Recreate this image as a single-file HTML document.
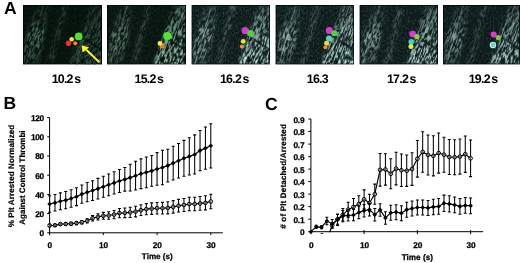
<!DOCTYPE html>
<html><head><meta charset="utf-8"><title>Figure</title>
<style>html,body{margin:0;padding:0;background:#fff;}svg{display:block;will-change:transform;text-rendering:geometricPrecision}</style></head>
<body><svg width="520" height="263" viewBox="0 0 520 263">
<rect width="520" height="263" fill="#fff"/>
<defs>
<filter id="bl" color-interpolation-filters="sRGB" x="-20%" y="-20%" width="140%" height="140%"><feGaussianBlur in="SourceGraphic" stdDeviation="1.5" result="b"/><feTurbulence type="fractalNoise" baseFrequency="0.75 0.16" numOctaves="2" seed="3" result="t"/><feColorMatrix in="t" type="matrix" values="0 0 0 0 1  0 0 0 0 1  0 0 0 0 1  4.5 4.5 0 0 -4.2" result="m"/><feComposite in="b" in2="m" operator="in"/></filter>
<filter id="bb" color-interpolation-filters="sRGB" x="-30%" y="-30%" width="160%" height="160%"><feGaussianBlur stdDeviation="0.7"/></filter>
<filter id="bs" color-interpolation-filters="sRGB" x="-30%" y="-30%" width="160%" height="160%"><feGaussianBlur in="SourceGraphic" stdDeviation="0.5" result="b"/><feTurbulence type="fractalNoise" baseFrequency="0.5 0.35" numOctaves="1" seed="21" result="t"/><feColorMatrix in="t" type="matrix" values="0 0 0 0 1  0 0 0 0 1  0 0 0 0 1  2.4 2.4 0 0 -1.6" result="m"/><feComposite in="b" in2="m" operator="in"/></filter>
<filter id="nz" color-interpolation-filters="sRGB" x="0" y="0" width="100%" height="100%"><feTurbulence type="fractalNoise" baseFrequency="0.6 0.4" numOctaves="2" seed="11" result="t"/><feColorMatrix in="t" type="matrix" values="0 0 0 0 0.24  0 0 0 0 0.38  0 0 0 0 0.36  1.0 1.0 0 0 -0.88"/></filter>
<clipPath id="c0"><rect x="23" y="5" width="79" height="59.5"/></clipPath>
<clipPath id="c1"><rect x="107" y="5" width="79" height="59.5"/></clipPath>
<clipPath id="c2"><rect x="191.5" y="5" width="78.5" height="59.5"/></clipPath>
<clipPath id="c3"><rect x="275.5" y="5" width="78.5" height="59.5"/></clipPath>
<clipPath id="c4"><rect x="359.5" y="5" width="78.5" height="59.5"/></clipPath>
<clipPath id="c5"><rect x="443" y="5" width="77" height="59.5"/></clipPath>
</defs>
<g clip-path="url(#c0)">
<rect x="23" y="5" width="79" height="59.5" fill="rgb(6,17,11)"/>
<g transform="rotate(20 63 35)"><g filter="url(#bl)"><g transform="rotate(-20 63 35)">
<linearGradient id="ga0" x1="0" y1="0" x2="0" y2="1"><stop offset="0" stop-color="rgb(84,120,100)" stop-opacity="0.08"/><stop offset="0.3" stop-color="rgb(84,120,100)" stop-opacity="0.45"/><stop offset="0.52" stop-color="rgb(84,120,100)" stop-opacity="1"/><stop offset="0.75" stop-color="rgb(84,120,100)" stop-opacity="0.7"/><stop offset="1" stop-color="rgb(84,120,100)" stop-opacity="0.25"/></linearGradient>
<linearGradient id="gb0" x1="0" y1="0" x2="0" y2="1"><stop offset="0" stop-color="rgb(62,90,75)" stop-opacity="0.28"/><stop offset="0.5" stop-color="rgb(62,90,75)" stop-opacity="0.7"/><stop offset="1" stop-color="rgb(62,90,75)" stop-opacity="1"/></linearGradient>
<polygon points="37.0,1.0 51.0,1.0 38.0,68.0 18.0,68.0" fill="url(#ga0)"/>
<polygon points="63.0,1.0 69.0,1.0 52.0,68.0 46.0,68.0" fill="rgb(67,96,80)" opacity="0.55"/>
<polygon points="91.0,1.0 107.0,1.0 107.0,68.0 68.0,68.0" fill="url(#gb0)"/>
</g></g></g>
<line x1="83" y1="38" x2="103" y2="51" stroke="rgb(6,17,11)" stroke-width="2.4" opacity="0.8" filter="url(#bb)"/>
<g filter="url(#bs)" stroke="rgb(62,90,75)" fill="none" stroke-linecap="round">
<path d="M44,3 L26,65" stroke-width="1.4" opacity="0.45"/>
<path d="M103,7 L70,65" stroke-width="1.6" opacity="0.6"/>
<path d="M97,3 L85,27" stroke-width="1.1" opacity="0.3"/>
</g>
<rect x="23" y="5" width="79" height="59.5" filter="url(#nz)" opacity="0.3"/>
<rect x="23.5" y="5.5" width="78" height="58.5" fill="none" stroke="#020806" stroke-width="1" opacity="0.75"/>
<g filter="url(#bb)">
<circle cx="78.7" cy="36.4" r="3.9" fill="#52dc34"/>
<circle cx="71.7" cy="39.2" r="2.3" fill="#f2e63a"/>
<circle cx="68.5" cy="43.3" r="2.8" fill="#e6303a"/>
<circle cx="75.2" cy="43.3" r="2.0" fill="#f08a28"/>
</g>
</g>
<g clip-path="url(#c1)">
<rect x="107" y="5" width="79" height="59.5" fill="rgb(9,20,15)"/>
<g transform="rotate(20 147 35)"><g filter="url(#bl)"><g transform="rotate(-20 147 35)">
<linearGradient id="ga1" x1="0" y1="0" x2="0" y2="1"><stop offset="0" stop-color="rgb(105,135,121)" stop-opacity="0.08"/><stop offset="0.3" stop-color="rgb(105,135,121)" stop-opacity="0.45"/><stop offset="0.52" stop-color="rgb(105,135,121)" stop-opacity="1"/><stop offset="0.75" stop-color="rgb(105,135,121)" stop-opacity="0.7"/><stop offset="1" stop-color="rgb(105,135,121)" stop-opacity="0.25"/></linearGradient>
<linearGradient id="gb1" x1="0" y1="0" x2="0" y2="1"><stop offset="0" stop-color="rgb(167,215,193)" stop-opacity="0.28"/><stop offset="0.5" stop-color="rgb(167,215,193)" stop-opacity="0.7"/><stop offset="1" stop-color="rgb(167,215,193)" stop-opacity="1"/></linearGradient>
<polygon points="121.0,1.0 135.0,1.0 122.0,68.0 102.0,68.0" fill="url(#ga1)"/>
<polygon points="147.0,1.0 153.0,1.0 136.0,68.0 130.0,68.0" fill="rgb(84,108,97)" opacity="0.55"/>
<polygon points="175.0,1.0 191.0,1.0 191.0,68.0 152.0,68.0" fill="url(#gb1)"/>
</g></g></g>
<line x1="167" y1="38" x2="187" y2="51" stroke="rgb(9,20,15)" stroke-width="2.4" opacity="0.8" filter="url(#bb)"/>
<g filter="url(#bs)" stroke="rgb(124,160,144)" fill="none" stroke-linecap="round">
<path d="M128,3 L110,65" stroke-width="1.4" opacity="0.45"/>
<path d="M187,7 L154,65" stroke-width="1.6" opacity="0.6"/>
<path d="M181,3 L169,27" stroke-width="1.1" opacity="0.3"/>
</g>
<rect x="107" y="5" width="79" height="59.5" filter="url(#nz)" opacity="0.4"/>
<rect x="107.5" y="5.5" width="78" height="58.5" fill="none" stroke="#020806" stroke-width="1" opacity="0.75"/>
<g filter="url(#bb)">
<circle cx="167.3" cy="36.1" r="4.1" fill="#54e236"/>
<circle cx="162.3" cy="46.0" r="2.5" fill="#f0782a"/>
<circle cx="160.0" cy="43.4" r="2.4" fill="#f0ee3c"/>
</g>
</g>
<g clip-path="url(#c2)">
<rect x="191.5" y="5" width="78.5" height="59.5" fill="rgb(14,26,26)"/>
<g transform="rotate(20 231.5 35)"><g filter="url(#bl)"><g transform="rotate(-20 231.5 35)">
<linearGradient id="ga2" x1="0" y1="0" x2="0" y2="1"><stop offset="0" stop-color="rgb(155,185,179)" stop-opacity="0.08"/><stop offset="0.3" stop-color="rgb(155,185,179)" stop-opacity="0.45"/><stop offset="0.52" stop-color="rgb(155,185,179)" stop-opacity="1"/><stop offset="0.75" stop-color="rgb(155,185,179)" stop-opacity="0.7"/><stop offset="1" stop-color="rgb(155,185,179)" stop-opacity="0.25"/></linearGradient>
<linearGradient id="gb2" x1="0" y1="0" x2="0" y2="1"><stop offset="0" stop-color="rgb(205,245,237)" stop-opacity="0.28"/><stop offset="0.5" stop-color="rgb(205,245,237)" stop-opacity="0.7"/><stop offset="1" stop-color="rgb(205,245,237)" stop-opacity="1"/></linearGradient>
<polygon points="205.5,1.0 219.5,1.0 206.5,68.0 186.5,68.0" fill="url(#ga2)"/>
<polygon points="231.5,1.0 237.5,1.0 220.5,68.0 214.5,68.0" fill="rgb(124,148,143)" opacity="0.55"/>
<polygon points="259.5,1.0 275.5,1.0 275.5,68.0 236.5,68.0" fill="url(#gb2)"/>
</g></g></g>
<line x1="251.5" y1="38" x2="271.5" y2="51" stroke="rgb(14,26,26)" stroke-width="2.4" opacity="0.8" filter="url(#bb)"/>
<g filter="url(#bs)" stroke="rgb(176,210,203)" fill="none" stroke-linecap="round">
<path d="M212.5,3 L194.5,65" stroke-width="1.4" opacity="0.45"/>
<path d="M271.5,7 L238.5,65" stroke-width="1.6" opacity="0.6"/>
<path d="M265.5,3 L253.5,27" stroke-width="1.1" opacity="0.3"/>
</g>
<rect x="191.5" y="5" width="78.5" height="59.5" filter="url(#nz)" opacity="0.85"/>
<rect x="192.0" y="5.5" width="77.5" height="58.5" fill="none" stroke="#020806" stroke-width="1" opacity="0.75"/>
<g filter="url(#bb)">
<circle cx="245.2" cy="30.6" r="3.7" fill="#d63bd0"/>
<circle cx="250.5" cy="33.3" r="3.3" fill="#55d03c"/>
<circle cx="243.2" cy="41.3" r="2.4" fill="#e2e83a"/>
<circle cx="241.9" cy="46.6" r="2.1" fill="#ee8a32"/>
</g>
</g>
<g clip-path="url(#c3)">
<rect x="275.5" y="5" width="78.5" height="59.5" fill="rgb(14,26,26)"/>
<g transform="rotate(20 315.5 35)"><g filter="url(#bl)"><g transform="rotate(-20 315.5 35)">
<linearGradient id="ga3" x1="0" y1="0" x2="0" y2="1"><stop offset="0" stop-color="rgb(155,185,179)" stop-opacity="0.08"/><stop offset="0.3" stop-color="rgb(155,185,179)" stop-opacity="0.45"/><stop offset="0.52" stop-color="rgb(155,185,179)" stop-opacity="1"/><stop offset="0.75" stop-color="rgb(155,185,179)" stop-opacity="0.7"/><stop offset="1" stop-color="rgb(155,185,179)" stop-opacity="0.25"/></linearGradient>
<linearGradient id="gb3" x1="0" y1="0" x2="0" y2="1"><stop offset="0" stop-color="rgb(205,245,237)" stop-opacity="0.28"/><stop offset="0.5" stop-color="rgb(205,245,237)" stop-opacity="0.7"/><stop offset="1" stop-color="rgb(205,245,237)" stop-opacity="1"/></linearGradient>
<polygon points="289.5,1.0 303.5,1.0 290.5,68.0 270.5,68.0" fill="url(#ga3)"/>
<polygon points="315.5,1.0 321.5,1.0 304.5,68.0 298.5,68.0" fill="rgb(124,148,143)" opacity="0.55"/>
<polygon points="343.5,1.0 359.5,1.0 359.5,68.0 320.5,68.0" fill="url(#gb3)"/>
</g></g></g>
<line x1="335.5" y1="38" x2="355.5" y2="51" stroke="rgb(14,26,26)" stroke-width="2.4" opacity="0.8" filter="url(#bb)"/>
<g filter="url(#bs)" stroke="rgb(176,210,203)" fill="none" stroke-linecap="round">
<path d="M296.5,3 L278.5,65" stroke-width="1.4" opacity="0.45"/>
<path d="M355.5,7 L322.5,65" stroke-width="1.6" opacity="0.6"/>
<path d="M349.5,3 L337.5,27" stroke-width="1.1" opacity="0.3"/>
</g>
<rect x="275.5" y="5" width="78.5" height="59.5" filter="url(#nz)" opacity="0.85"/>
<rect x="276.0" y="5.5" width="77.5" height="58.5" fill="none" stroke="#020806" stroke-width="1" opacity="0.75"/>
<g filter="url(#bb)">
<circle cx="329.3" cy="30.6" r="3.5" fill="#d63bd0"/>
<circle cx="334.3" cy="33.3" r="3.0" fill="#55d03c"/>
<circle cx="329.0" cy="38.6" r="3.0" fill="#5fcfc0"/>
<circle cx="326.6" cy="43.3" r="2.5" fill="#ecd83a"/>
<circle cx="325.3" cy="47.3" r="1.9" fill="#ee9a32"/>
</g>
</g>
<g clip-path="url(#c4)">
<rect x="359.5" y="5" width="78.5" height="59.5" fill="rgb(14,25,25)"/>
<g transform="rotate(20 399.5 35)"><g filter="url(#bl)"><g transform="rotate(-20 399.5 35)">
<linearGradient id="ga4" x1="0" y1="0" x2="0" y2="1"><stop offset="0" stop-color="rgb(147,175,169)" stop-opacity="0.08"/><stop offset="0.3" stop-color="rgb(147,175,169)" stop-opacity="0.45"/><stop offset="0.52" stop-color="rgb(147,175,169)" stop-opacity="1"/><stop offset="0.75" stop-color="rgb(147,175,169)" stop-opacity="0.7"/><stop offset="1" stop-color="rgb(147,175,169)" stop-opacity="0.25"/></linearGradient>
<linearGradient id="gb4" x1="0" y1="0" x2="0" y2="1"><stop offset="0" stop-color="rgb(194,232,225)" stop-opacity="0.28"/><stop offset="0.5" stop-color="rgb(194,232,225)" stop-opacity="0.7"/><stop offset="1" stop-color="rgb(194,232,225)" stop-opacity="1"/></linearGradient>
<polygon points="373.5,1.0 387.5,1.0 374.5,68.0 354.5,68.0" fill="url(#ga4)"/>
<polygon points="399.5,1.0 405.5,1.0 388.5,68.0 382.5,68.0" fill="rgb(117,140,135)" opacity="0.55"/>
<polygon points="427.5,1.0 443.5,1.0 443.5,68.0 404.5,68.0" fill="url(#gb4)"/>
</g></g></g>
<line x1="419.5" y1="38" x2="439.5" y2="51" stroke="rgb(14,25,25)" stroke-width="2.4" opacity="0.8" filter="url(#bb)"/>
<g filter="url(#bs)" stroke="rgb(168,200,194)" fill="none" stroke-linecap="round">
<path d="M380.5,3 L362.5,65" stroke-width="1.4" opacity="0.45"/>
<path d="M439.5,7 L406.5,65" stroke-width="1.6" opacity="0.6"/>
<path d="M433.5,3 L421.5,27" stroke-width="1.1" opacity="0.3"/>
</g>
<rect x="359.5" y="5" width="78.5" height="59.5" filter="url(#nz)" opacity="0.8"/>
<rect x="360.0" y="5.5" width="77.5" height="58.5" fill="none" stroke="#020806" stroke-width="1" opacity="0.75"/>
<g filter="url(#bb)">
<circle cx="412.6" cy="34.0" r="3.3" fill="#dc3bd0"/>
<circle cx="416.9" cy="36.6" r="2.6" fill="#8fd048"/>
<circle cx="411.3" cy="41.9" r="2.8" fill="#48d0c0"/>
<circle cx="410.9" cy="46.6" r="2.5" fill="#e8e83c"/>
</g>
</g>
<g clip-path="url(#c5)">
<rect x="443" y="5" width="77" height="59.5" fill="rgb(13,24,24)"/>
<g transform="rotate(20 483 35)"><g filter="url(#bl)"><g transform="rotate(-20 483 35)">
<linearGradient id="ga5" x1="0" y1="0" x2="0" y2="1"><stop offset="0" stop-color="rgb(136,165,161)" stop-opacity="0.08"/><stop offset="0.3" stop-color="rgb(136,165,161)" stop-opacity="0.45"/><stop offset="0.52" stop-color="rgb(136,165,161)" stop-opacity="1"/><stop offset="0.75" stop-color="rgb(136,165,161)" stop-opacity="0.7"/><stop offset="1" stop-color="rgb(136,165,161)" stop-opacity="0.25"/></linearGradient>
<linearGradient id="gb5" x1="0" y1="0" x2="0" y2="1"><stop offset="0" stop-color="rgb(182,220,215)" stop-opacity="0.28"/><stop offset="0.5" stop-color="rgb(182,220,215)" stop-opacity="0.7"/><stop offset="1" stop-color="rgb(182,220,215)" stop-opacity="1"/></linearGradient>
<polygon points="457.0,1.0 471.0,1.0 458.0,68.0 438.0,68.0" fill="url(#ga5)"/>
<polygon points="483.0,1.0 489.0,1.0 472.0,68.0 466.0,68.0" fill="rgb(109,132,129)" opacity="0.55"/>
<polygon points="511.0,1.0 527.0,1.0 527.0,68.0 488.0,68.0" fill="url(#gb5)"/>
</g></g></g>
<line x1="503" y1="38" x2="523" y2="51" stroke="rgb(13,24,24)" stroke-width="2.4" opacity="0.8" filter="url(#bb)"/>
<g filter="url(#bs)" stroke="rgb(157,190,186)" fill="none" stroke-linecap="round">
<path d="M464,3 L446,65" stroke-width="1.4" opacity="0.45"/>
<path d="M523,7 L490,65" stroke-width="1.6" opacity="0.6"/>
<path d="M517,3 L505,27" stroke-width="1.1" opacity="0.3"/>
</g>
<rect x="443" y="5" width="77" height="59.5" filter="url(#nz)" opacity="0.75"/>
<rect x="443.5" y="5.5" width="76" height="58.5" fill="none" stroke="#020806" stroke-width="1" opacity="0.75"/>
<g filter="url(#bb)">
<circle cx="493.7" cy="34.6" r="3.0" fill="#dc3bd0"/>
<circle cx="498.3" cy="37.6" r="2.6" fill="#78c840"/>
<circle cx="492.9" cy="45.0" r="3.2" fill="#d8f0e4"/>
<circle cx="493.0" cy="44.9" r="2.3" fill="#58d8c4"/>
</g>
</g>
<g stroke="#f6f432" fill="#f6f432"><line x1="99.4" y1="62.3" x2="86.2" y2="49.8" stroke-width="2"/><polygon points="81.6,45.2 89.2,47.4 82.6,52.6" stroke="none"/></g>
<g font-family='"Liberation Sans", sans-serif' font-weight="bold" fill="#000">
<text x="4.0" y="13.8" font-size="17.5" text-anchor="start">A</text>
<text x="3.6" y="109.4" font-size="17.5" text-anchor="start">B</text>
<text x="265.0" y="109.6" font-size="17.5" text-anchor="start">C</text>
<text x="66.0" y="82.5" font-size="12.4" text-anchor="middle" letter-spacing="-0.75" word-spacing="-1.2">10.2 s</text>
<text x="148.9" y="82.5" font-size="12.4" text-anchor="middle" letter-spacing="-0.75" word-spacing="-1.2">15.2 s</text>
<text x="234.3" y="82.5" font-size="12.4" text-anchor="middle" letter-spacing="-0.75" word-spacing="-1.2">16.2 s</text>
<text x="317.3" y="82.5" font-size="12.4" text-anchor="middle" letter-spacing="-0.75" word-spacing="-1.2">16.3</text>
<text x="401.3" y="82.5" font-size="12.4" text-anchor="middle" letter-spacing="-0.75" word-spacing="-1.2">17.2 s</text>
<text x="483.1" y="82.5" font-size="12.4" text-anchor="middle" letter-spacing="-0.75" word-spacing="-1.2">19.2 s</text>
<g stroke="#000" stroke-width="1" fill="none">
<path d="M49.6,117.60000000000002 V235.4 M47.2,232.8 H222.8"/>
<path d="M47.2,213.6 H49.6"/>
<path d="M47.2,194.4 H49.6"/>
<path d="M47.2,175.2 H49.6"/>
<path d="M47.2,156.0 H49.6"/>
<path d="M47.2,136.8 H49.6"/>
<path d="M47.2,117.6 H49.6"/>
<path d="M103.3,232.8 V235.10000000000002"/>
<path d="M157.1,232.8 V235.10000000000002"/>
<path d="M210.8,232.8 V235.10000000000002"/>
</g>
<text x="43.9" y="236.20000000000002" font-size="8.3" text-anchor="end" letter-spacing="-0.3" stroke="#000" stroke-width="0.25">0</text>
<text x="43.9" y="217.00000000000003" font-size="8.3" text-anchor="end" letter-spacing="-0.3" stroke="#000" stroke-width="0.25">20</text>
<text x="43.9" y="197.8" font-size="8.3" text-anchor="end" letter-spacing="-0.3" stroke="#000" stroke-width="0.25">40</text>
<text x="43.9" y="178.60000000000002" font-size="8.3" text-anchor="end" letter-spacing="-0.3" stroke="#000" stroke-width="0.25">60</text>
<text x="43.9" y="159.4" font-size="8.3" text-anchor="end" letter-spacing="-0.3" stroke="#000" stroke-width="0.25">80</text>
<text x="43.9" y="140.20000000000002" font-size="8.3" text-anchor="end" letter-spacing="-0.3" stroke="#000" stroke-width="0.25">100</text>
<text x="43.9" y="121.00000000000003" font-size="8.3" text-anchor="end" letter-spacing="-0.3" stroke="#000" stroke-width="0.25">120</text>
<text x="49.7" y="247.5" font-size="8.3" text-anchor="middle" letter-spacing="-0.3" stroke="#000" stroke-width="0.25">0</text>
<text x="103.43" y="247.5" font-size="8.3" text-anchor="middle" letter-spacing="-0.3" stroke="#000" stroke-width="0.25">10</text>
<text x="157.16" y="247.5" font-size="8.3" text-anchor="middle" letter-spacing="-0.3" stroke="#000" stroke-width="0.25">20</text>
<text x="210.89" y="247.5" font-size="8.3" text-anchor="middle" letter-spacing="-0.3" stroke="#000" stroke-width="0.25">30</text>
<text x="157.3" y="259.4" font-size="8.1" text-anchor="middle" stroke="#000" stroke-width="0.25">Time (s)</text>
<text transform="translate(14.3,176.0) rotate(-90)" font-size="8" letter-spacing="0.12" stroke="#000" stroke-width="0.2" text-anchor="middle">% Plt Arrested Normalized</text>
<text transform="translate(24.6,177.6) rotate(-90)" font-size="8" stroke="#000" stroke-width="0.2" text-anchor="middle">Against Control Thrombi</text>
<path d="M49.60,224.35V226.66M48.10,224.35h3.0M48.10,226.66h3.0M54.97,224.16V226.46M53.47,224.16h3.0M53.47,226.46h3.0M60.35,222.91V225.41M58.85,222.91h3.0M58.85,225.41h3.0M65.72,222.62V225.31M64.22,222.62h3.0M64.22,225.31h3.0M71.09,222.24V225.12M69.59,222.24h3.0M69.59,225.12h3.0M76.47,221.57V224.64M74.97,221.57h3.0M74.97,224.64h3.0M81.84,220.51V223.97M80.34,220.51h3.0M80.34,223.97h3.0M87.21,218.69V222.91M85.71,218.69h3.0M85.71,222.91h3.0M92.58,215.52V220.90M91.08,215.52h3.0M91.08,220.90h3.0M97.96,213.79V219.94M96.46,213.79h3.0M96.46,219.94h3.0M103.33,212.35V219.26M101.83,212.35h3.0M101.83,219.26h3.0M108.70,211.78V219.26M107.20,211.78h3.0M107.20,219.26h3.0M114.08,210.43V218.69M112.58,210.43h3.0M112.58,218.69h3.0M119.45,208.51V217.73M117.95,208.51h3.0M117.95,217.73h3.0M124.82,208.03V217.63M123.32,208.03h3.0M123.32,217.63h3.0M130.19,207.17V217.54M128.69,207.17h3.0M128.69,217.54h3.0M135.57,206.30V216.86M134.07,206.30h3.0M134.07,216.86h3.0M140.94,204.77V215.52M139.44,204.77h3.0M139.44,215.52h3.0M146.31,203.62V214.75M144.81,203.62h3.0M144.81,214.75h3.0M151.69,202.85V214.37M150.19,202.85h3.0M150.19,214.37h3.0M157.06,202.46V213.98M155.56,202.46h3.0M155.56,213.98h3.0M162.43,202.37V214.08M160.93,202.37h3.0M160.93,214.08h3.0M167.81,201.79V213.89M166.31,201.79h3.0M166.31,213.89h3.0M173.18,200.64V213.12M171.68,200.64h3.0M171.68,213.12h3.0M178.55,199.39V212.06M177.05,199.39h3.0M177.05,212.06h3.0M183.93,198.43V211.49M182.43,198.43h3.0M182.43,211.49h3.0M189.30,197.28V210.72M187.80,197.28h3.0M187.80,210.72h3.0M194.67,197.28V210.72M193.17,197.28h3.0M193.17,210.72h3.0M200.04,196.51V210.34M198.54,196.51h3.0M198.54,210.34h3.0M205.42,195.84V209.86M203.92,195.84h3.0M203.92,209.86h3.0M210.79,194.30V208.70M209.29,194.30h3.0M209.29,208.70h3.0" stroke="#000" stroke-width="1.05" fill="none"/>
<polyline points="49.60,225.50 54.97,225.31 60.35,224.16 65.72,223.97 71.09,223.68 76.47,223.10 81.84,222.24 87.21,220.80 92.58,218.21 97.96,216.86 103.33,215.81 108.70,215.52 114.08,214.56 119.45,213.12 124.82,212.83 130.19,212.35 135.57,211.58 140.94,210.14 146.31,209.18 151.69,208.61 157.06,208.22 162.43,208.22 167.81,207.84 173.18,206.88 178.55,205.73 183.93,204.96 189.30,204.00 194.67,204.00 200.04,203.42 205.42,202.85 210.79,201.50" stroke="#000" stroke-width="1.15" fill="none"/>
<circle cx="49.60" cy="225.50" r="1.85" fill="#fff" fill-opacity="0.35" stroke="#000" stroke-width="1"/>
<circle cx="54.97" cy="225.31" r="1.85" fill="#fff" fill-opacity="0.35" stroke="#000" stroke-width="1"/>
<circle cx="60.35" cy="224.16" r="1.85" fill="#fff" fill-opacity="0.35" stroke="#000" stroke-width="1"/>
<circle cx="65.72" cy="223.97" r="1.85" fill="#fff" fill-opacity="0.35" stroke="#000" stroke-width="1"/>
<circle cx="71.09" cy="223.68" r="1.85" fill="#fff" fill-opacity="0.35" stroke="#000" stroke-width="1"/>
<circle cx="76.47" cy="223.10" r="1.85" fill="#fff" fill-opacity="0.35" stroke="#000" stroke-width="1"/>
<circle cx="81.84" cy="222.24" r="1.85" fill="#fff" fill-opacity="0.35" stroke="#000" stroke-width="1"/>
<circle cx="87.21" cy="220.80" r="1.85" fill="#fff" fill-opacity="0.35" stroke="#000" stroke-width="1"/>
<circle cx="92.58" cy="218.21" r="1.85" fill="#fff" fill-opacity="0.35" stroke="#000" stroke-width="1"/>
<circle cx="97.96" cy="216.86" r="1.85" fill="#fff" fill-opacity="0.35" stroke="#000" stroke-width="1"/>
<circle cx="103.33" cy="215.81" r="1.85" fill="#fff" fill-opacity="0.35" stroke="#000" stroke-width="1"/>
<circle cx="108.70" cy="215.52" r="1.85" fill="#fff" fill-opacity="0.35" stroke="#000" stroke-width="1"/>
<circle cx="114.08" cy="214.56" r="1.85" fill="#fff" fill-opacity="0.35" stroke="#000" stroke-width="1"/>
<circle cx="119.45" cy="213.12" r="1.85" fill="#fff" fill-opacity="0.35" stroke="#000" stroke-width="1"/>
<circle cx="124.82" cy="212.83" r="1.85" fill="#fff" fill-opacity="0.35" stroke="#000" stroke-width="1"/>
<circle cx="130.19" cy="212.35" r="1.85" fill="#fff" fill-opacity="0.35" stroke="#000" stroke-width="1"/>
<circle cx="135.57" cy="211.58" r="1.85" fill="#fff" fill-opacity="0.35" stroke="#000" stroke-width="1"/>
<circle cx="140.94" cy="210.14" r="1.85" fill="#fff" fill-opacity="0.35" stroke="#000" stroke-width="1"/>
<circle cx="146.31" cy="209.18" r="1.85" fill="#fff" fill-opacity="0.35" stroke="#000" stroke-width="1"/>
<circle cx="151.69" cy="208.61" r="1.85" fill="#fff" fill-opacity="0.35" stroke="#000" stroke-width="1"/>
<circle cx="157.06" cy="208.22" r="1.85" fill="#fff" fill-opacity="0.35" stroke="#000" stroke-width="1"/>
<circle cx="162.43" cy="208.22" r="1.85" fill="#fff" fill-opacity="0.35" stroke="#000" stroke-width="1"/>
<circle cx="167.81" cy="207.84" r="1.85" fill="#fff" fill-opacity="0.35" stroke="#000" stroke-width="1"/>
<circle cx="173.18" cy="206.88" r="1.85" fill="#fff" fill-opacity="0.35" stroke="#000" stroke-width="1"/>
<circle cx="178.55" cy="205.73" r="1.85" fill="#fff" fill-opacity="0.35" stroke="#000" stroke-width="1"/>
<circle cx="183.93" cy="204.96" r="1.85" fill="#fff" fill-opacity="0.35" stroke="#000" stroke-width="1"/>
<circle cx="189.30" cy="204.00" r="1.85" fill="#fff" fill-opacity="0.35" stroke="#000" stroke-width="1"/>
<circle cx="194.67" cy="204.00" r="1.85" fill="#fff" fill-opacity="0.35" stroke="#000" stroke-width="1"/>
<circle cx="200.04" cy="203.42" r="1.85" fill="#fff" fill-opacity="0.35" stroke="#000" stroke-width="1"/>
<circle cx="205.42" cy="202.85" r="1.85" fill="#fff" fill-opacity="0.35" stroke="#000" stroke-width="1"/>
<circle cx="210.79" cy="201.50" r="1.85" fill="#fff" fill-opacity="0.35" stroke="#000" stroke-width="1"/>
<path d="M49.60,195.84V212.16M48.10,195.84h3.0M48.10,212.16h3.0M54.97,194.50V211.01M53.47,194.50h3.0M53.47,211.01h3.0M60.35,192.86V209.76M58.85,192.86h3.0M58.85,209.76h3.0M65.72,191.52V208.80M64.22,191.52h3.0M64.22,208.80h3.0M71.09,189.70V207.17M69.59,189.70h3.0M69.59,207.17h3.0M76.47,187.78V205.63M74.97,187.78h3.0M74.97,205.63h3.0M81.84,184.90V203.33M80.34,184.90h3.0M80.34,203.33h3.0M87.21,182.59V201.79M85.71,182.59h3.0M85.71,201.79h3.0M92.58,180.67V200.45M91.08,180.67h3.0M91.08,200.45h3.0M97.96,178.37V198.91M96.46,178.37h3.0M96.46,198.91h3.0M103.33,176.16V197.28M101.83,176.16h3.0M101.83,197.28h3.0M108.70,173.95V195.65M107.20,173.95h3.0M107.20,195.65h3.0M114.08,171.74V194.02M112.58,171.74h3.0M112.58,194.02h3.0M119.45,169.44V192.48M117.95,169.44h3.0M117.95,192.48h3.0M124.82,167.52V191.14M123.32,167.52h3.0M123.32,191.14h3.0M130.19,164.16V191.04M128.69,164.16h3.0M128.69,191.04h3.0M135.57,161.28V190.08M134.07,161.28h3.0M134.07,190.08h3.0M140.94,158.88V188.64M139.44,158.88h3.0M139.44,188.64h3.0M146.31,156.96V187.68M144.81,156.96h3.0M144.81,187.68h3.0M151.69,155.52V186.24M150.19,155.52h3.0M150.19,186.24h3.0M157.06,152.64V185.28M155.56,152.64h3.0M155.56,185.28h3.0M162.43,150.24V184.80M160.93,150.24h3.0M160.93,184.80h3.0M167.81,149.28V181.92M166.31,149.28h3.0M166.31,181.92h3.0M173.18,146.21V180.00M171.68,146.21h3.0M171.68,180.00h3.0M178.55,143.52V178.08M177.05,143.52h3.0M177.05,178.08h3.0M183.93,140.35V176.26M182.43,140.35h3.0M182.43,176.26h3.0M189.30,137.76V175.01M187.80,137.76h3.0M187.80,175.01h3.0M194.67,134.88V174.05M193.17,134.88h3.0M193.17,174.05h3.0M200.04,130.46V170.78M198.54,130.46h3.0M198.54,170.78h3.0M205.42,127.01V169.25M203.92,127.01h3.0M203.92,169.25h3.0M210.79,123.74V167.90M209.29,123.74h3.0M209.29,167.90h3.0" stroke="#000" stroke-width="1.05" fill="none"/>
<polyline points="49.60,204.00 54.97,202.75 60.35,201.31 65.72,200.16 71.09,198.43 76.47,196.70 81.84,194.11 87.21,192.19 92.58,190.56 97.96,188.64 103.33,186.72 108.70,184.80 114.08,182.88 119.45,180.96 124.82,179.33 130.19,177.60 135.57,175.68 140.94,173.76 146.31,172.32 151.69,170.88 157.06,168.96 162.43,167.52 167.81,165.60 173.18,163.10 178.55,160.80 183.93,158.30 189.30,156.38 194.67,154.46 200.04,150.62 205.42,148.13 210.79,145.82" stroke="#000" stroke-width="1.15" fill="none"/>
<polygon points="49.60,201.70 51.90,204.00 49.60,206.30 47.30,204.00" fill="#000"/>
<polygon points="54.97,200.45 57.27,202.75 54.97,205.05 52.67,202.75" fill="#000"/>
<polygon points="60.35,199.01 62.65,201.31 60.35,203.61 58.05,201.31" fill="#000"/>
<polygon points="65.72,197.86 68.02,200.16 65.72,202.46 63.42,200.16" fill="#000"/>
<polygon points="71.09,196.13 73.39,198.43 71.09,200.73 68.79,198.43" fill="#000"/>
<polygon points="76.47,194.40 78.77,196.70 76.47,199.00 74.17,196.70" fill="#000"/>
<polygon points="81.84,191.81 84.14,194.11 81.84,196.41 79.54,194.11" fill="#000"/>
<polygon points="87.21,189.89 89.51,192.19 87.21,194.49 84.91,192.19" fill="#000"/>
<polygon points="92.58,188.26 94.88,190.56 92.58,192.86 90.28,190.56" fill="#000"/>
<polygon points="97.96,186.34 100.26,188.64 97.96,190.94 95.66,188.64" fill="#000"/>
<polygon points="103.33,184.42 105.63,186.72 103.33,189.02 101.03,186.72" fill="#000"/>
<polygon points="108.70,182.50 111.00,184.80 108.70,187.10 106.40,184.80" fill="#000"/>
<polygon points="114.08,180.58 116.38,182.88 114.08,185.18 111.78,182.88" fill="#000"/>
<polygon points="119.45,178.66 121.75,180.96 119.45,183.26 117.15,180.96" fill="#000"/>
<polygon points="124.82,177.03 127.12,179.33 124.82,181.63 122.52,179.33" fill="#000"/>
<polygon points="130.19,175.30 132.50,177.60 130.19,179.90 127.89,177.60" fill="#000"/>
<polygon points="135.57,173.38 137.87,175.68 135.57,177.98 133.27,175.68" fill="#000"/>
<polygon points="140.94,171.46 143.24,173.76 140.94,176.06 138.64,173.76" fill="#000"/>
<polygon points="146.31,170.02 148.61,172.32 146.31,174.62 144.01,172.32" fill="#000"/>
<polygon points="151.69,168.58 153.99,170.88 151.69,173.18 149.39,170.88" fill="#000"/>
<polygon points="157.06,166.66 159.36,168.96 157.06,171.26 154.76,168.96" fill="#000"/>
<polygon points="162.43,165.22 164.73,167.52 162.43,169.82 160.13,167.52" fill="#000"/>
<polygon points="167.81,163.30 170.11,165.60 167.81,167.90 165.51,165.60" fill="#000"/>
<polygon points="173.18,160.80 175.48,163.10 173.18,165.40 170.88,163.10" fill="#000"/>
<polygon points="178.55,158.50 180.85,160.80 178.55,163.10 176.25,160.80" fill="#000"/>
<polygon points="183.93,156.00 186.23,158.30 183.93,160.60 181.62,158.30" fill="#000"/>
<polygon points="189.30,154.08 191.60,156.38 189.30,158.68 187.00,156.38" fill="#000"/>
<polygon points="194.67,152.16 196.97,154.46 194.67,156.76 192.37,154.46" fill="#000"/>
<polygon points="200.04,148.32 202.34,150.62 200.04,152.92 197.74,150.62" fill="#000"/>
<polygon points="205.42,145.83 207.72,148.13 205.42,150.43 203.12,148.13" fill="#000"/>
<polygon points="210.79,143.52 213.09,145.82 210.79,148.12 208.49,145.82" fill="#000"/>
<g stroke="#000" stroke-width="1" fill="none">
<path d="M310.9,119.0 V234.2 M308.29999999999995,231.7 H483.2"/>
<path d="M308.29999999999995,219.2 H310.9"/>
<path d="M308.29999999999995,206.7 H310.9"/>
<path d="M308.29999999999995,194.1 H310.9"/>
<path d="M308.29999999999995,181.6 H310.9"/>
<path d="M308.29999999999995,169.1 H310.9"/>
<path d="M308.29999999999995,156.6 H310.9"/>
<path d="M308.29999999999995,144.1 H310.9"/>
<path d="M308.29999999999995,131.5 H310.9"/>
<path d="M308.29999999999995,119.0 H310.9"/>
<path d="M364.1,230.1 V234.1"/>
<path d="M417.4,230.1 V234.1"/>
<path d="M470.6,230.1 V234.1"/>
</g>
<text x="304.3" y="235.2" font-size="8.3" text-anchor="end" letter-spacing="-0.25" stroke="#000" stroke-width="0.25">0</text>
<text x="304.3" y="222.67999999999998" font-size="8.3" text-anchor="end" letter-spacing="-0.25" stroke="#000" stroke-width="0.25">0.1</text>
<text x="304.3" y="210.16" font-size="8.3" text-anchor="end" letter-spacing="-0.25" stroke="#000" stroke-width="0.25">0.2</text>
<text x="304.3" y="197.64" font-size="8.3" text-anchor="end" letter-spacing="-0.25" stroke="#000" stroke-width="0.25">0.3</text>
<text x="304.3" y="185.11999999999998" font-size="8.3" text-anchor="end" letter-spacing="-0.25" stroke="#000" stroke-width="0.25">0.4</text>
<text x="304.3" y="172.6" font-size="8.3" text-anchor="end" letter-spacing="-0.25" stroke="#000" stroke-width="0.25">0.5</text>
<text x="304.3" y="160.07999999999998" font-size="8.3" text-anchor="end" letter-spacing="-0.25" stroke="#000" stroke-width="0.25">0.6</text>
<text x="304.3" y="147.56" font-size="8.3" text-anchor="end" letter-spacing="-0.25" stroke="#000" stroke-width="0.25">0.7</text>
<text x="304.3" y="135.03999999999996" font-size="8.3" text-anchor="end" letter-spacing="-0.25" stroke="#000" stroke-width="0.25">0.8</text>
<text x="304.3" y="122.51999999999998" font-size="8.3" text-anchor="end" letter-spacing="-0.25" stroke="#000" stroke-width="0.25">0.9</text>
<text x="311.2" y="247.7" font-size="8.3" text-anchor="middle" letter-spacing="-0.3" stroke="#000" stroke-width="0.25">0</text>
<text x="364.43" y="247.7" font-size="8.3" text-anchor="middle" letter-spacing="-0.3" stroke="#000" stroke-width="0.25">10</text>
<text x="417.66" y="247.7" font-size="8.3" text-anchor="middle" letter-spacing="-0.3" stroke="#000" stroke-width="0.25">20</text>
<text x="470.89" y="247.7" font-size="8.3" text-anchor="middle" letter-spacing="-0.3" stroke="#000" stroke-width="0.25">30</text>
<text x="417.3" y="260.0" font-size="8.2" text-anchor="middle" stroke="#000" stroke-width="0.25">Time (s)</text>
<text transform="translate(286.4,176.3) rotate(-90)" font-size="8" letter-spacing="0.18" stroke="#000" stroke-width="0.2" text-anchor="middle"># of Plt Detached/Arrested</text>
<clipPath id="cc"><rect x="300" y="100" width="200" height="132.2"/></clipPath>
<g clip-path="url(#cc)">
<path d="M332.19,222.94V227.94M330.69,222.94h3.0M330.69,227.94h3.0M337.51,214.17V224.19M336.01,214.17h3.0M336.01,224.19h3.0M342.84,208.54V221.06M341.34,208.54h3.0M341.34,221.06h3.0M348.16,202.15V217.18M346.66,202.15h3.0M346.66,217.18h3.0M353.48,198.40V215.42M351.98,198.40h3.0M351.98,215.42h3.0M358.81,195.77V212.29M357.31,195.77h3.0M357.31,212.29h3.0M364.13,189.88V208.66M362.63,189.88h3.0M362.63,208.66h3.0M369.45,194.27V211.79M367.95,194.27h3.0M367.95,211.79h3.0M374.78,184.12V204.16M373.28,184.12h3.0M373.28,204.16h3.0M380.10,153.58V186.13M378.60,153.58h3.0M378.60,186.13h3.0M385.42,153.83V185.13M383.92,153.83h3.0M383.92,185.13h3.0M390.75,158.71V188.76M389.25,158.71h3.0M389.25,188.76h3.0M396.07,152.32V184.88M394.57,152.32h3.0M394.57,184.88h3.0M401.39,153.95V186.50M399.89,153.95h3.0M399.89,186.50h3.0M406.71,155.08V186.38M405.21,155.08h3.0M405.21,186.38h3.0M412.04,152.82V185.38M410.54,152.82h3.0M410.54,185.38h3.0M417.36,140.55V177.11M415.86,140.55h3.0M415.86,177.11h3.0M422.68,131.67V172.23M421.18,131.67h3.0M421.18,172.23h3.0M428.01,134.92V174.98M426.51,134.92h3.0M426.51,174.98h3.0M433.33,135.80V175.86M431.83,135.80h3.0M431.83,175.86h3.0M438.65,133.04V173.11M437.15,133.04h3.0M437.15,173.11h3.0M443.98,137.17V172.23M442.48,137.17h3.0M442.48,172.23h3.0M449.30,139.43V174.48M447.80,139.43h3.0M447.80,174.48h3.0M454.62,139.68V174.73M453.12,139.68h3.0M453.12,174.73h3.0M459.94,139.05V174.11M458.44,139.05h3.0M458.44,174.11h3.0M465.27,136.05V172.36M463.77,136.05h3.0M463.77,172.36h3.0M470.59,140.05V176.61M469.09,140.05h3.0M469.09,176.61h3.0" stroke="#000" stroke-width="1.05" fill="none"/>
<polyline points="326.87,239.71 332.19,225.44 337.51,219.18 342.84,214.80 348.16,209.66 353.48,206.91 358.81,204.03 364.13,199.27 369.45,203.03 374.78,194.14 380.10,169.85 385.42,169.48 390.75,173.73 396.07,168.60 401.39,170.23 406.71,170.73 412.04,169.10 417.36,158.83 422.68,151.95 428.01,154.95 433.33,155.83 438.65,153.07 443.98,154.70 449.30,156.96 454.62,157.21 459.94,156.58 465.27,154.20 470.59,158.33" stroke="#000" stroke-width="1.15" fill="none"/>
<circle cx="332.19" cy="225.44" r="1.85" fill="#fff" fill-opacity="0.35" stroke="#000" stroke-width="1"/>
<circle cx="337.51" cy="219.18" r="1.85" fill="#fff" fill-opacity="0.35" stroke="#000" stroke-width="1"/>
<circle cx="342.84" cy="214.80" r="1.85" fill="#fff" fill-opacity="0.35" stroke="#000" stroke-width="1"/>
<circle cx="348.16" cy="209.66" r="1.85" fill="#fff" fill-opacity="0.35" stroke="#000" stroke-width="1"/>
<circle cx="353.48" cy="206.91" r="1.85" fill="#fff" fill-opacity="0.35" stroke="#000" stroke-width="1"/>
<circle cx="358.81" cy="204.03" r="1.85" fill="#fff" fill-opacity="0.35" stroke="#000" stroke-width="1"/>
<circle cx="364.13" cy="199.27" r="1.85" fill="#fff" fill-opacity="0.35" stroke="#000" stroke-width="1"/>
<circle cx="369.45" cy="203.03" r="1.85" fill="#fff" fill-opacity="0.35" stroke="#000" stroke-width="1"/>
<circle cx="374.78" cy="194.14" r="1.85" fill="#fff" fill-opacity="0.35" stroke="#000" stroke-width="1"/>
<circle cx="380.10" cy="169.85" r="1.85" fill="#fff" fill-opacity="0.35" stroke="#000" stroke-width="1"/>
<circle cx="385.42" cy="169.48" r="1.85" fill="#fff" fill-opacity="0.35" stroke="#000" stroke-width="1"/>
<circle cx="390.75" cy="173.73" r="1.85" fill="#fff" fill-opacity="0.35" stroke="#000" stroke-width="1"/>
<circle cx="396.07" cy="168.60" r="1.85" fill="#fff" fill-opacity="0.35" stroke="#000" stroke-width="1"/>
<circle cx="401.39" cy="170.23" r="1.85" fill="#fff" fill-opacity="0.35" stroke="#000" stroke-width="1"/>
<circle cx="406.71" cy="170.73" r="1.85" fill="#fff" fill-opacity="0.35" stroke="#000" stroke-width="1"/>
<circle cx="412.04" cy="169.10" r="1.85" fill="#fff" fill-opacity="0.35" stroke="#000" stroke-width="1"/>
<circle cx="417.36" cy="158.83" r="1.85" fill="#fff" fill-opacity="0.35" stroke="#000" stroke-width="1"/>
<circle cx="422.68" cy="151.95" r="1.85" fill="#fff" fill-opacity="0.35" stroke="#000" stroke-width="1"/>
<circle cx="428.01" cy="154.95" r="1.85" fill="#fff" fill-opacity="0.35" stroke="#000" stroke-width="1"/>
<circle cx="433.33" cy="155.83" r="1.85" fill="#fff" fill-opacity="0.35" stroke="#000" stroke-width="1"/>
<circle cx="438.65" cy="153.07" r="1.85" fill="#fff" fill-opacity="0.35" stroke="#000" stroke-width="1"/>
<circle cx="443.98" cy="154.70" r="1.85" fill="#fff" fill-opacity="0.35" stroke="#000" stroke-width="1"/>
<circle cx="449.30" cy="156.96" r="1.85" fill="#fff" fill-opacity="0.35" stroke="#000" stroke-width="1"/>
<circle cx="454.62" cy="157.21" r="1.85" fill="#fff" fill-opacity="0.35" stroke="#000" stroke-width="1"/>
<circle cx="459.94" cy="156.58" r="1.85" fill="#fff" fill-opacity="0.35" stroke="#000" stroke-width="1"/>
<circle cx="465.27" cy="154.20" r="1.85" fill="#fff" fill-opacity="0.35" stroke="#000" stroke-width="1"/>
<circle cx="470.59" cy="158.33" r="1.85" fill="#fff" fill-opacity="0.35" stroke="#000" stroke-width="1"/>
</g>
<path d="M320.6,233.4h2.6" stroke="#000" stroke-width="0.9"/>
<path d="M316.22,225.31V228.32M314.72,225.31h3.0M314.72,228.32h3.0M321.55,225.69V228.70M320.05,225.69h3.0M320.05,228.70h3.0M326.87,217.30V224.81M325.37,217.30h3.0M325.37,224.81h3.0M332.19,219.56V228.32M330.69,219.56h3.0M330.69,228.32h3.0M337.51,214.17V225.44M336.01,214.17h3.0M336.01,225.44h3.0M342.84,210.42V221.68M341.34,210.42h3.0M341.34,221.68h3.0M348.16,209.79V221.06M346.66,209.79h3.0M346.66,221.06h3.0M353.48,209.41V220.68M351.98,209.41h3.0M351.98,220.68h3.0M358.81,206.28V218.80M357.31,206.28h3.0M357.31,218.80h3.0M364.13,204.41V216.93M362.63,204.41h3.0M362.63,216.93h3.0M369.45,203.40V215.92M367.95,203.40h3.0M367.95,215.92h3.0M374.78,208.54V221.06M373.28,208.54h3.0M373.28,221.06h3.0M380.10,203.66V216.18M378.60,203.66h3.0M378.60,216.18h3.0M385.42,211.67V224.19M383.92,211.67h3.0M383.92,224.19h3.0M390.75,205.28V220.31M389.25,205.28h3.0M389.25,220.31h3.0M396.07,204.66V219.68M394.57,204.66h3.0M394.57,219.68h3.0M401.39,205.66V220.68M399.89,205.66h3.0M399.89,220.68h3.0M406.71,202.15V217.18M405.21,202.15h3.0M405.21,217.18h3.0M412.04,201.03V216.05M410.54,201.03h3.0M410.54,216.05h3.0M417.36,200.02V215.05M415.86,200.02h3.0M415.86,215.05h3.0M422.68,200.02V215.05M421.18,200.02h3.0M421.18,215.05h3.0M428.01,200.40V215.42M426.51,200.40h3.0M426.51,215.42h3.0M433.33,199.15V214.67M431.83,199.15h3.0M431.83,214.67h3.0M438.65,198.52V214.30M437.15,198.52h3.0M437.15,214.30h3.0M443.98,195.14V211.42M442.48,195.14h3.0M442.48,211.42h3.0M449.30,195.77V212.04M447.80,195.77h3.0M447.80,212.04h3.0M454.62,197.02V212.79M453.12,197.02h3.0M453.12,212.79h3.0M459.94,198.52V214.30M458.44,198.52h3.0M458.44,214.30h3.0M465.27,197.52V213.30M463.77,197.52h3.0M463.77,213.30h3.0M470.59,197.90V213.67M469.09,197.90h3.0M469.09,213.67h3.0" stroke="#000" stroke-width="1.05" fill="none"/>
<polyline points="310.90,231.70 316.22,226.82 321.55,227.19 326.87,221.06 332.19,223.94 337.51,219.81 342.84,216.05 348.16,215.42 353.48,215.05 358.81,212.54 364.13,210.67 369.45,209.66 374.78,214.80 380.10,209.92 385.42,217.93 390.75,212.79 396.07,212.17 401.39,213.17 406.71,209.66 412.04,208.54 417.36,207.54 422.68,207.54 428.01,207.91 433.33,206.91 438.65,206.41 443.98,203.28 449.30,203.91 454.62,204.91 459.94,206.41 465.27,205.41 470.59,205.78" stroke="#000" stroke-width="1.15" fill="none"/>
<polygon points="310.90,229.40 313.20,231.70 310.90,234.00 308.60,231.70" fill="#000"/>
<polygon points="316.22,224.52 318.52,226.82 316.22,229.12 313.92,226.82" fill="#000"/>
<polygon points="321.55,224.89 323.85,227.19 321.55,229.49 319.25,227.19" fill="#000"/>
<polygon points="326.87,218.76 329.17,221.06 326.87,223.36 324.57,221.06" fill="#000"/>
<polygon points="332.19,221.64 334.49,223.94 332.19,226.24 329.89,223.94" fill="#000"/>
<polygon points="337.51,217.51 339.81,219.81 337.51,222.11 335.21,219.81" fill="#000"/>
<polygon points="342.84,213.75 345.14,216.05 342.84,218.35 340.54,216.05" fill="#000"/>
<polygon points="348.16,213.12 350.46,215.42 348.16,217.72 345.86,215.42" fill="#000"/>
<polygon points="353.48,212.75 355.78,215.05 353.48,217.35 351.18,215.05" fill="#000"/>
<polygon points="358.81,210.24 361.11,212.54 358.81,214.84 356.51,212.54" fill="#000"/>
<polygon points="364.13,208.37 366.43,210.67 364.13,212.97 361.83,210.67" fill="#000"/>
<polygon points="369.45,207.36 371.75,209.66 369.45,211.96 367.15,209.66" fill="#000"/>
<polygon points="374.78,212.50 377.08,214.80 374.78,217.10 372.48,214.80" fill="#000"/>
<polygon points="380.10,207.62 382.40,209.92 380.10,212.22 377.80,209.92" fill="#000"/>
<polygon points="385.42,215.63 387.72,217.93 385.42,220.23 383.12,217.93" fill="#000"/>
<polygon points="390.75,210.49 393.05,212.79 390.75,215.09 388.44,212.79" fill="#000"/>
<polygon points="396.07,209.87 398.37,212.17 396.07,214.47 393.77,212.17" fill="#000"/>
<polygon points="401.39,210.87 403.69,213.17 401.39,215.47 399.09,213.17" fill="#000"/>
<polygon points="406.71,207.36 409.01,209.66 406.71,211.96 404.41,209.66" fill="#000"/>
<polygon points="412.04,206.24 414.34,208.54 412.04,210.84 409.74,208.54" fill="#000"/>
<polygon points="417.36,205.24 419.66,207.54 417.36,209.84 415.06,207.54" fill="#000"/>
<polygon points="422.68,205.24 424.98,207.54 422.68,209.84 420.38,207.54" fill="#000"/>
<polygon points="428.01,205.61 430.31,207.91 428.01,210.21 425.71,207.91" fill="#000"/>
<polygon points="433.33,204.61 435.63,206.91 433.33,209.21 431.03,206.91" fill="#000"/>
<polygon points="438.65,204.11 440.95,206.41 438.65,208.71 436.35,206.41" fill="#000"/>
<polygon points="443.98,200.98 446.28,203.28 443.98,205.58 441.68,203.28" fill="#000"/>
<polygon points="449.30,201.61 451.60,203.91 449.30,206.21 447.00,203.91" fill="#000"/>
<polygon points="454.62,202.61 456.92,204.91 454.62,207.21 452.32,204.91" fill="#000"/>
<polygon points="459.94,204.11 462.24,206.41 459.94,208.71 457.64,206.41" fill="#000"/>
<polygon points="465.27,203.11 467.57,205.41 465.27,207.71 462.97,205.41" fill="#000"/>
<polygon points="470.59,203.48 472.89,205.78 470.59,208.08 468.29,205.78" fill="#000"/>
</g>
</svg></body></html>
